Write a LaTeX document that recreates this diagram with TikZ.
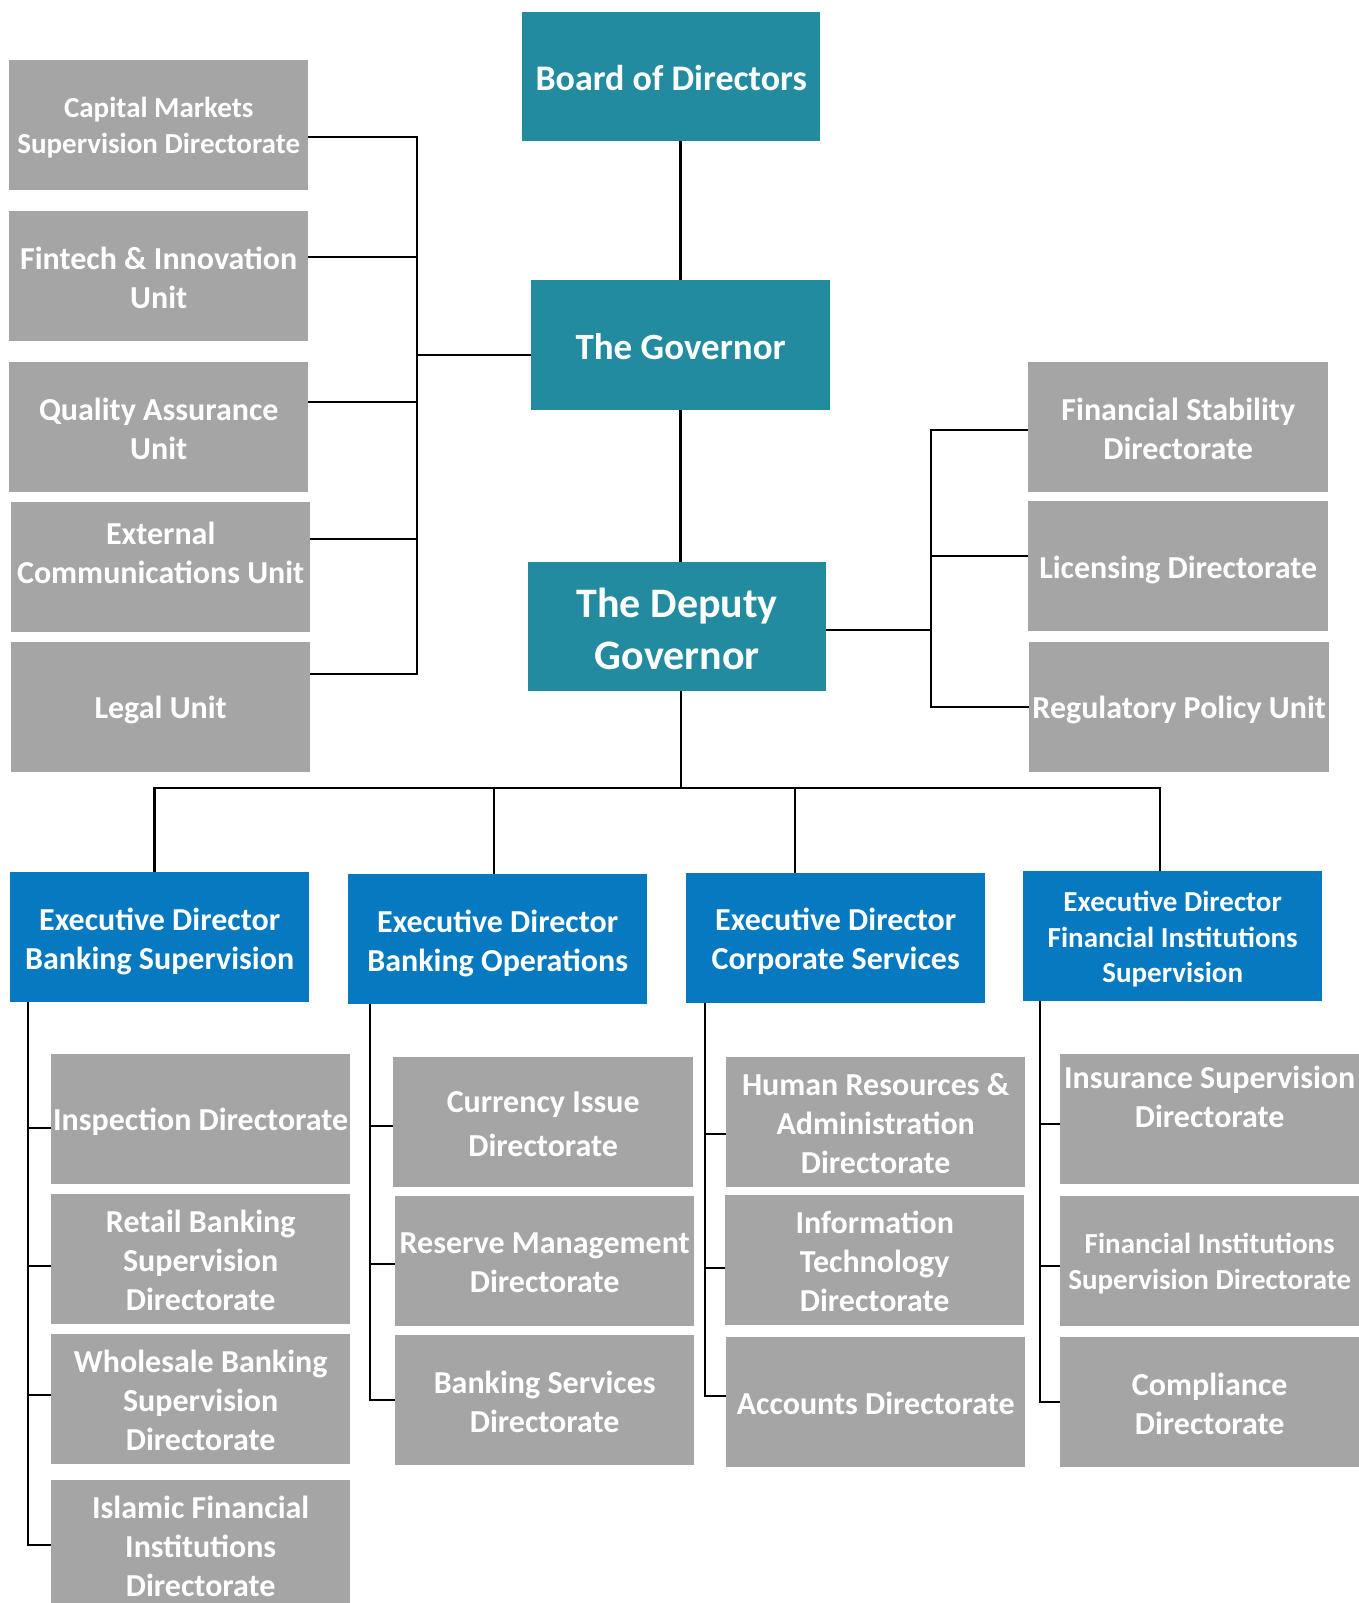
\documentclass[tikz,border=0pt]{standalone}
\usepackage{fontspec}
\setmainfont{Carlito}
\usetikzlibrary{calc}
\definecolor{tealc}{HTML}{228BA0}
\definecolor{bluec}{HTML}{0779C1}
\definecolor{grayc}{HTML}{A5A5A5}
\newcommand\setfs[2]{\fontsize{#1}{#2}\selectfont}
\begin{document}
\begin{tikzpicture}[x=1pt,y=-1pt,
  box/.style={anchor=north west, inner sep=0pt, minimum width=299pt, minimum height=130pt},
  tbox/.style={box, fill=tealc},
  ebox/.style={box, fill=bluec},
  gbox/.style={box, fill=grayc},
  lbl/.style={text=white, align=center, inner sep=0pt, font=\bfseries\setfs{32}{39}},
  wire/.style={line width=2.8pt, line join=miter, draw=black}]
\useasboundingbox (0,0) rectangle (1359,1603);
\clip (0,0) rectangle (1359,1603);
\fill[white] (0,0) rectangle (1359,1603);

% top chain
\node[tbox, minimum width=298pt, minimum height=129pt] (board) at (522,12) {};
\node[lbl, font=\bfseries\setfs{36}{44}] (boardt) at ([yshift=-1.5pt]board.center) {Board of Directors};
\node[tbox] (gov) at (531,280) {};
\node[lbl, font=\bfseries\setfs{37}{44}] (govt) at ([yshift=-1.5pt]gov.center) {The Governor};
\node[tbox, minimum width=298pt, minimum height=129pt] (dep) at (528,562) {};
\node[lbl, font=\bfseries\setfs{42}{52}] (dept) at ([yshift=-2pt]dep.center) {The Deputy\\Governor};

% left units
\node[gbox] (cap) at (9,60) {};
\node[lbl, font=\bfseries\setfs{29}{36}] (capt) at ([yshift=-2.5pt]cap.center) {Capital Markets\\Supervision Directorate};
\node[gbox] (fin) at (9,211) {};
\node[lbl] (fint) at ([yshift=-2pt]fin.center) {Fintech \& Innovation\\Unit};
\node[gbox] (qa) at (9,362) {};
\node[lbl] (qat) at ([yshift=-2pt]qa.center) {Quality Assurance\\Unit};
\node[gbox] (ext) at (11,502) {};
\node[lbl] (extt) at ([yshift=14pt]ext.center) {External\\Communications Unit};
\node[gbox] (legal) at (11,642) {};
\node[lbl] (legalt) at ([yshift=-3pt]legal.center) {Legal Unit};

% right units
\node[gbox, minimum width=300pt] (fs) at (1028,362) {};
\node[lbl] (fst) at ([yshift=-2pt]fs.center) {Financial Stability\\Directorate};
\node[gbox, minimum width=300pt] (lic) at (1028,501) {};
\node[lbl] (lict) at ([yshift=-3.5pt]lic.center) {Licensing Directorate};
\node[gbox, minimum width=300pt] (rp) at (1029,642) {};
\node[lbl] (rpt) at ([yshift=-3pt]rp.center) {Regulatory Policy Unit};

% executive directors
\node[ebox] (bs) at (10,872) {};
\node[lbl] (bst) at ([yshift=-4pt]bs.center) {Executive Director\\Banking Supervision};
\node[ebox] (bo) at (348,874) {};
\node[lbl] (bot) at ([yshift=-4pt]bo.center) {Executive Director\\Banking Operations};
\node[ebox] (cs) at (686,873) {};
\node[lbl] (cst) at ([yshift=-3.5pt]cs.center) {Executive Director\\Corporate Services};
\node[ebox] (fis) at (1023,871) {};
\node[lbl, font=\bfseries\setfs{29}{35.5}] (fist) at ([yshift=-3pt]fis.center) {Executive Director\\Financial Institutions\\Supervision};

% banking supervision directorates
\node[gbox] (insp) at (51,1054) {};
\node[lbl] (inspt) at ([yshift=-3pt]insp.center) {Inspection Directorate};
\node[gbox] (retail) at (51,1194) {};
\node[lbl] (retailt) at ([yshift=-1.5pt]retail.center) {Retail Banking\\Supervision\\Directorate};
\node[gbox] (whole) at (51,1334) {};
\node[lbl] (wholet) at ([yshift=-1.5pt]whole.center) {Wholesale Banking\\Supervision\\Directorate};
\node[gbox] (isl) at (51,1480) {};
\node[lbl] (islt) at ([yshift=-1.5pt]isl.center) {Islamic Financial\\Institutions\\Directorate};

% banking operations directorates
\node[gbox, minimum width=300pt] (cur) at (393,1057) {};
\node[lbl, font=\bfseries\setfs{32}{44}] (curt) at ([yshift=-1.5pt]cur.center) {Currency Issue\\Directorate};
\node[gbox] (res) at (395,1196) {};
\node[lbl] (rest) at ([yshift=-2pt]res.center) {Reserve Management\\Directorate};
\node[gbox] (bsv) at (395,1335) {};
\node[lbl] (bsvt) at ([yshift=-2pt]bsv.center) {Banking Services\\Directorate};

% corporate services directorates
\node[gbox] (hr) at (726,1057) {};
\node[lbl] (hrt) at ([yshift=-1.5pt]hr.center) {Human Resources \&\\Administration\\Directorate};
\node[gbox] (it) at (725,1195) {};
\node[lbl] (itt) at ([yshift=-1.5pt]it.center) {Information\\Technology\\Directorate};
\node[gbox] (acc) at (726,1337) {};
\node[lbl] (acct) at ([yshift=-1.5pt]acc.center) {Accounts Directorate};

% financial institutions supervision directorates
\node[gbox] (ins) at (1060,1054) {};
\node[lbl] (inst) at ([yshift=22pt]ins.center) {Insurance Supervision\\Directorate};
\node[gbox] (fi) at (1060,1196) {};
\node[lbl, font=\bfseries\setfs{29}{36}] (fit) at ([yshift=-2pt]fi.center) {Financial Institutions\\Supervision Directorate};
\node[gbox] (comp) at (1060,1337) {};
\node[lbl] (compt) at ([yshift=-1.5pt]comp.center) {Compliance\\Directorate};

% ---- connectors ----
\coordinate (hb) at (681,788);
\draw[wire] (gov.north) -- (gov.north |- board.south);
\draw[wire] (gov.south) -- (gov.south |- dep.north);
\draw[wire] (dep.south -| hb) -- (hb);

% left bus
\coordinate (lt) at (417,137);
\coordinate (l2) at (417,257);
\coordinate (lg) at (417,355);
\coordinate (l3) at (417,402);
\coordinate (l4) at (417,539);
\coordinate (lb) at (417,674);
\draw[wire] (cap.east |- lt) -- (lt) -- (lb) -- (lb -| legal.east);
\draw[wire] (l2) -- (l2 -| fin.east);
\draw[wire] (lg) -- (lg -| gov.west);
\draw[wire] (l3) -- (l3 -| qa.east);
\draw[wire] (l4) -- (l4 -| ext.east);

% right bus
\coordinate (rt) at (931,430);
\coordinate (r2) at (931,556);
\coordinate (rd) at (931,630);
\coordinate (rb) at (931,707);
\draw[wire] (fs.west |- rt) -- (rt) -- (rb) -- (rb -| rp.west);
\draw[wire] (r2) -- (r2 -| lic.west);
\draw[wire] (rd) -- (rd -| dep.east);

% executive bus
\coordinate (hbl) at (154.5,788);
\coordinate (d2) at (494,788);
\coordinate (d3) at (795,788);
\coordinate (hbr) at (1160,788);
\draw[wire] (hbl |- bs.north) -- (hbl) -- (hbr) -- (hbr |- fis.north);
\draw[wire] (d2) -- (d2 |- bo.north);
\draw[wire] (d3) -- (d3 |- cs.north);

% banking supervision
\coordinate (a1) at (28,1128);
\coordinate (a2) at (28,1266);
\coordinate (a3) at (28,1395);
\coordinate (a4) at (28,1545);
\draw[wire] (a4 |- bs.south) -- (a4) -- (a4 -| isl.west);
\draw[wire] (a1) -- (a1 -| insp.west);
\draw[wire] (a2) -- (a2 -| retail.west);
\draw[wire] (a3) -- (a3 -| whole.west);

% banking operations
\coordinate (b1) at (370,1126);
\coordinate (b2) at (370,1264);
\coordinate (b3) at (370,1400);
\draw[wire] (b3 |- bo.south) -- (b3) -- (b3 -| bsv.west);
\draw[wire] (b1) -- (b1 -| cur.west);
\draw[wire] (b2) -- (b2 -| res.west);

% corporate services
\coordinate (c1) at (705,1134);
\coordinate (c2) at (705,1268);
\coordinate (c3) at (705,1396);
\draw[wire] (c3 |- cs.south) -- (c3) -- (c3 -| acc.west);
\draw[wire] (c1) -- (c1 -| hr.west);
\draw[wire] (c2) -- (c2 -| it.west);

% financial institutions supervision
\coordinate (e1) at (1040,1124);
\coordinate (e2) at (1040,1266);
\coordinate (e3) at (1040,1402);
\draw[wire] (e3 |- fis.south) -- (e3) -- (e3 -| comp.west);
\draw[wire] (e1) -- (e1 -| ins.west);
\draw[wire] (e2) -- (e2 -| fi.west);
\end{tikzpicture}
\end{document}
